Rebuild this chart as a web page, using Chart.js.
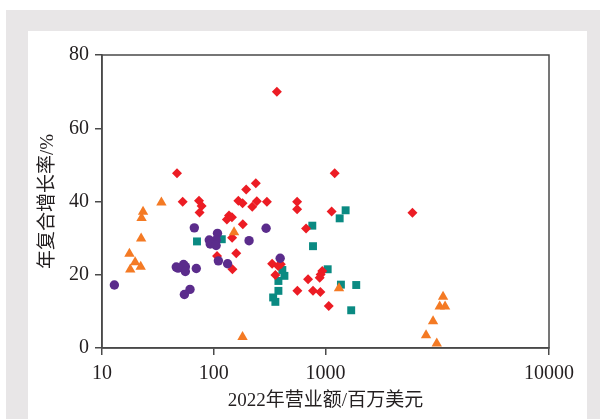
<!DOCTYPE html>
<html>
<head>
<meta charset="utf-8">
<script src="https://cdn.jsdelivr.net/npm/chart.js@4"></script>
<style>
  html, body { margin: 0; padding: 0; background: #fff; }
  #frame { position: absolute; left: 6px; top: 10px; width: 594px; height: 409px; background: #e8e6e7; }
  #panel { position: absolute; left: 28px; top: 31px; width: 559px; height: 388px; background: #fff; }
  #chart { position: absolute; left: 0; top: 0; }
</style>
</head>
<body>
<div id="frame"></div>
<div id="panel"></div>
<canvas id="chart" width="605" height="419"></canvas>
<script>
// x: 2022 revenue (million USD), y: CAGR (%)
const triRevenue = [34, 23.3, 22.6, 22.4, 17.6, 19.8, 22.2, 17.9, 152, 1321, 181, 11270, 10520, 11750, 9170, 7940, 9900];
const triCagr    = [39.7, 37.2, 35.5, 29.9, 25.7, 23.4, 22.2, 21.4, 31.6, 16.3, 3.0, 14.0, 11.3, 11.3, 7.3, 3.5, 1.2];

const dotRevenue = [12.9, 46.2, 53.7, 55.7, 47.9, 55.7, 69.8, 61.3, 54.6, 67.0, 108, 91.2, 105, 93, 105, 207, 294, 110, 133, 393];
const dotCagr    = [17.2, 22.1, 22.8, 22.2, 21.8, 20.9, 21.7, 16.0, 14.6, 32.8, 31.3, 29.5, 29.5, 28.4, 28.0, 29.3, 32.7, 23.8, 23.0, 24.5];

const diaRevenue = [46.9, 52.7, 73.8, 77.9, 74.7, 195, 238, 166, 181, 243, 221, 299, 137, 131, 145.5, 182, 146, 159, 107, 147,
                    1208, 557, 557, 1135, 670, 333, 377, 398, 356, 698, 560, 773, 900, 935, 905, 887, 1069, 5998, 367];
const diaCagr    = [47.7, 39.9, 40.2, 38.8, 37.0, 43.3, 45.0, 40.2, 39.5, 40.1, 38.6, 39.9, 36.2, 35.1, 35.7, 33.8, 30.1, 25.9, 25.1, 21.5,
                    47.7, 39.9, 37.9, 37.3, 32.6, 23.0, 22.4, 22.9, 19.9, 18.8, 15.6, 15.6, 15.3, 21.0, 20.1, 19.2, 11.5, 36.9, 70.0];

const sqRevenue = [70.8, 118, 1514, 1339, 762, 773, 1046, 1374, 1884, 1698, 411, 429, 379, 379, 340, 356];
const sqCagr    = [29.1, 29.7, 37.6, 35.4, 33.4, 27.8, 21.5, 17.3, 17.2, 10.3, 21.3, 19.7, 18.3, 15.6, 13.8, 12.6];

const xTickValues = [10, 100, 1000, 100000];
const xTickLabels = ['10', '100', '1000', '10000'];
const yTicks = [0, 20, 40, 60, 80];

const xTitle = '2022年营业额/百万美元';
const yTitle = '年复合增长率/%';

function pts(xs, ys) {
  return xs.map((x, i) => ({ x: x, y: ys[i] }));
}

const axisColor = '#4a4a4a';
const tickFont = { family: "'Liberation Serif', serif", size: 20 };
const titleFont = { family: "'Liberation Serif', 'Noto Sans CJK SC', serif", size: 19 };

// box round the plot (top and right sides)
const boxPlugin = {
  id: 'box',
  afterDraw(chart) {
    const a = chart.chartArea;
    const ctx = chart.ctx;
    ctx.save();
    ctx.strokeStyle = axisColor;
    ctx.lineWidth = 1.5;
    ctx.strokeRect(a.left, a.top, a.right - a.left, a.bottom - a.top);
    ctx.restore();
  }
};

new Chart(document.getElementById('chart'), {
  type: 'scatter',
  data: {
    datasets: [
      { data: pts(triRevenue, triCagr), pointStyle: 'triangle', pointRadius: 6, backgroundColor: '#f47a24', borderWidth: 0, order: 0 },
      { data: pts(dotRevenue, dotCagr), pointStyle: 'circle', pointRadius: 4.7, backgroundColor: '#5b2c8c', borderWidth: 0, order: 1 },
      { data: pts(diaRevenue, diaCagr), pointStyle: 'rectRot', pointRadius: 5, backgroundColor: '#ec1c24', borderWidth: 0, order: 2 },
      { data: pts(sqRevenue, sqCagr), pointStyle: 'rect', pointRadius: 5.6, backgroundColor: '#0a8a82', borderWidth: 0, order: 3 }
    ]
  },
  options: {
    responsive: false,
    animation: false,
    devicePixelRatio: 1,
    layout: { padding: { left: 30, top: 55, right: 56, bottom: 7 } },
    plugins: { legend: { display: false }, tooltip: { enabled: false } },
    scales: {
      x: {
        type: 'logarithmic',
        min: 10,
        max: 100000,
        afterBuildTicks(scale) { scale.ticks = xTickValues.map(v => ({ value: v })); },
        afterFit(scale) { scale.height = 64; },
        ticks: {
          autoSkip: false,
          maxRotation: 0,
          padding: 7,
          color: '#231f20',
          font: tickFont,
          callback: (v) => xTickLabels[xTickValues.indexOf(v)]
        },
        grid: { drawOnChartArea: false, drawTicks: true, tickLength: 7, color: axisColor, lineWidth: 1.5 },
        border: { display: true, color: axisColor, width: 1.5 },
        title: { display: true, text: xTitle, color: '#231f20', font: titleFont, padding: 0 }
      },
      y: {
        min: 0,
        max: 80,
        afterBuildTicks(scale) { scale.ticks = yTicks.map(v => ({ value: v })); },
        afterFit(scale) { scale.width = 72; },
        ticks: { padding: 6, color: '#231f20', font: tickFont },
        grid: { drawOnChartArea: false, drawTicks: true, tickLength: 7, color: axisColor, lineWidth: 1.5 },
        border: { display: true, color: axisColor, width: 1.5 },
        title: { display: true, text: yTitle, color: '#231f20', font: titleFont, padding: { top: 7, bottom: 0 } }
      }
    }
  },
  plugins: [boxPlugin]
});
</script>
</body>
</html>
